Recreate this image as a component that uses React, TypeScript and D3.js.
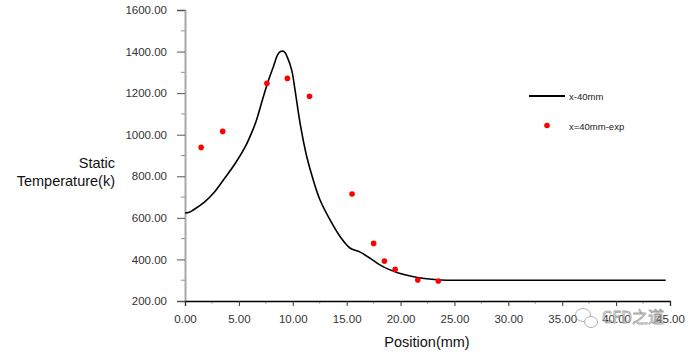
import React, { useEffect, useRef } from 'react';
import * as d3 from 'd3';

// simulated curve x-40mm
const linePos = [0, 0.4, 0.77, 1.86, 2.63, 3.56, 4.64, 5.57, 6.19, 6.6, 7.27, 7.8, 8.2, 8.6, 8.85, 9.2, 9.5, 9.9, 10.21, 10.68, 11.3, 11.9, 12.53, 13.46, 14.4, 15.3, 16.25, 17.2, 18.0, 18.7, 19.8, 20.9, 22.2, 23.7, 24.6, 30, 35, 40, 44.6];
const lineTemp = [623, 627, 638, 678, 718, 782, 860, 940, 1010, 1065, 1183, 1270, 1327, 1385, 1400, 1400, 1372, 1311, 1215, 1055, 894, 782, 686, 590, 509, 455, 435, 405, 376, 357, 335, 320, 308, 301, 300, 300, 300, 300, 300];

// experiment x=40mm-exp
const expPos = [1.5, 3.5, 7.6, 9.5, 11.55, 15.5, 17.5, 18.5, 19.5, 21.6, 23.5];
const expTemp = [939, 1016, 1247, 1271, 1185, 715, 477, 392, 352, 301, 296];

const xTicks = [0, 5, 10, 15, 20, 25, 30, 35, 40, 45];
const yTicks = [200, 400, 600, 800, 1000, 1200, 1400, 1600];

const W = 688, H = 354;
const margin = { left: 185, top: 10, right: 18, bottom: 53 };

const App = () => {
    const svgRef = useRef<SVGSVGElement>(null);

    useEffect(() => {
        const svg = d3.select(svgRef.current);
        svg.selectAll('*').remove();
        const font = "Arial, 'Liberation Sans', sans-serif";

        const x = d3.scaleLinear().domain([0, 45]).range([margin.left, W - margin.right]);
        const y = d3.scaleLinear().domain([200, 1600]).range([H - margin.bottom, margin.top]);

        // minor ticks
        const minorX = d3.range(2.5, 45, 5);
        const minorY = d3.range(300, 1600, 200);
        svg.append('g').selectAll('line').data(minorX).enter().append('line')
            .attr('x1', d => x(d)).attr('x2', d => x(d))
            .attr('y1', y(200)).attr('y2', y(200) + 3)
            .attr('stroke', '#b0b0b0').attr('stroke-width', 1);
        svg.append('g').selectAll('line').data(minorY).enter().append('line')
            .attr('x1', x(0) - 4).attr('x2', x(0))
            .attr('y1', d => y(d)).attr('y2', d => y(d))
            .attr('stroke', '#909090').attr('stroke-width', 1);

        // y axis
        const yAxis = svg.append('g').attr('transform', `translate(${x(0)},0)`)
            .call(d3.axisLeft(y).tickValues(yTicks).tickSize(8).tickPadding(10).tickFormat(d3.format('.2f')));
        yAxis.select('.domain').attr('stroke', '#a8a8a8').attr('stroke-width', 2);
        yAxis.selectAll('.tick line').attr('stroke', '#555');
        yAxis.selectAll('text').attr('fill', '#333').style('font-family', font).style('font-size', '11.5px');

        // x axis
        const xAxis = svg.append('g').attr('transform', `translate(0,${y(200)})`)
            .call(d3.axisBottom(x).tickValues(xTicks).tickSize(5).tickPadding(9).tickFormat(d3.format('.2f')));
        xAxis.select('.domain').attr('stroke', '#000').attr('stroke-width', 1.3);
        xAxis.selectAll('.tick line').attr('stroke', '#333');
        xAxis.selectAll('text').attr('fill', '#333').style('font-family', font).style('font-size', '11.5px');

        // curve
        const line = d3.line<number>()
            .x((d, i) => x(linePos[i]))
            .y(d => y(d))
            .curve(d3.curveCatmullRom.alpha(0.5));
        svg.append('path').datum(lineTemp)
            .attr('d', line)
            .attr('fill', 'none').attr('stroke', '#000').attr('stroke-width', 1.6);

        // experiment points
        svg.append('g').selectAll('circle').data(expTemp).enter().append('circle')
            .attr('cx', (d, i) => x(expPos[i]))
            .attr('cy', d => y(d))
            .attr('r', 2.8)
            .attr('fill', '#ff0000');

        // legend
        const lg = svg.append('g').style('font-family', font).style('font-size', '9.5px').attr('fill', '#222');
        lg.append('line').attr('x1', 529).attr('x2', 565).attr('y1', 96).attr('y2', 96)
            .attr('stroke', '#000').attr('stroke-width', 2);
        lg.append('text').attr('x', 569).attr('y', 99.5).text('x-40mm');
        lg.append('circle').attr('cx', 547).attr('cy', 125.5).attr('r', 2.8).attr('fill', '#ff0000');
        lg.append('text').attr('x', 569).attr('y', 129.5).text('x=40mm-exp');

        // axis titles
        const tt = svg.append('g').style('font-family', font).style('font-size', '14.5px').attr('fill', '#111');
        tt.append('text').attr('x', 115).attr('y', 168).attr('text-anchor', 'end').text('Static');
        tt.append('text').attr('x', 115).attr('y', 186).attr('text-anchor', 'end').text('Temperature(k)');
        tt.append('text').attr('x', 427).attr('y', 347).attr('text-anchor', 'middle').text('Position(mm)');

        // watermark
        const wm = svg.append('g').attr('opacity', 0.75);
        wm.append('ellipse').attr('cx', 583).attr('cy', 315).attr('rx', 7.5).attr('ry', 6.5)
            .attr('fill', 'none').attr('stroke', '#999').attr('stroke-width', 1);
        wm.append('ellipse').attr('cx', 591).attr('cy', 322).attr('rx', 6.5).attr('ry', 5.5)
            .attr('fill', '#fff').attr('stroke', '#999').attr('stroke-width', 1);
        wm.append('text').attr('x', 602).attr('y', 323)
            .style('font-family', "'Noto Sans CJK SC', sans-serif").style('font-size', '16px')
            .attr('fill', '#fff').attr('stroke', '#888').attr('stroke-width', 0.8)
            .text('CFD之道');
    }, []);

    return (
        <div style={{ position: 'absolute', left: 0, top: 0 }}>
            <svg ref={svgRef} width={W} height={H} style={{ display: 'block', background: '#fff' }}></svg>
        </div>
    );
};

export default App;
